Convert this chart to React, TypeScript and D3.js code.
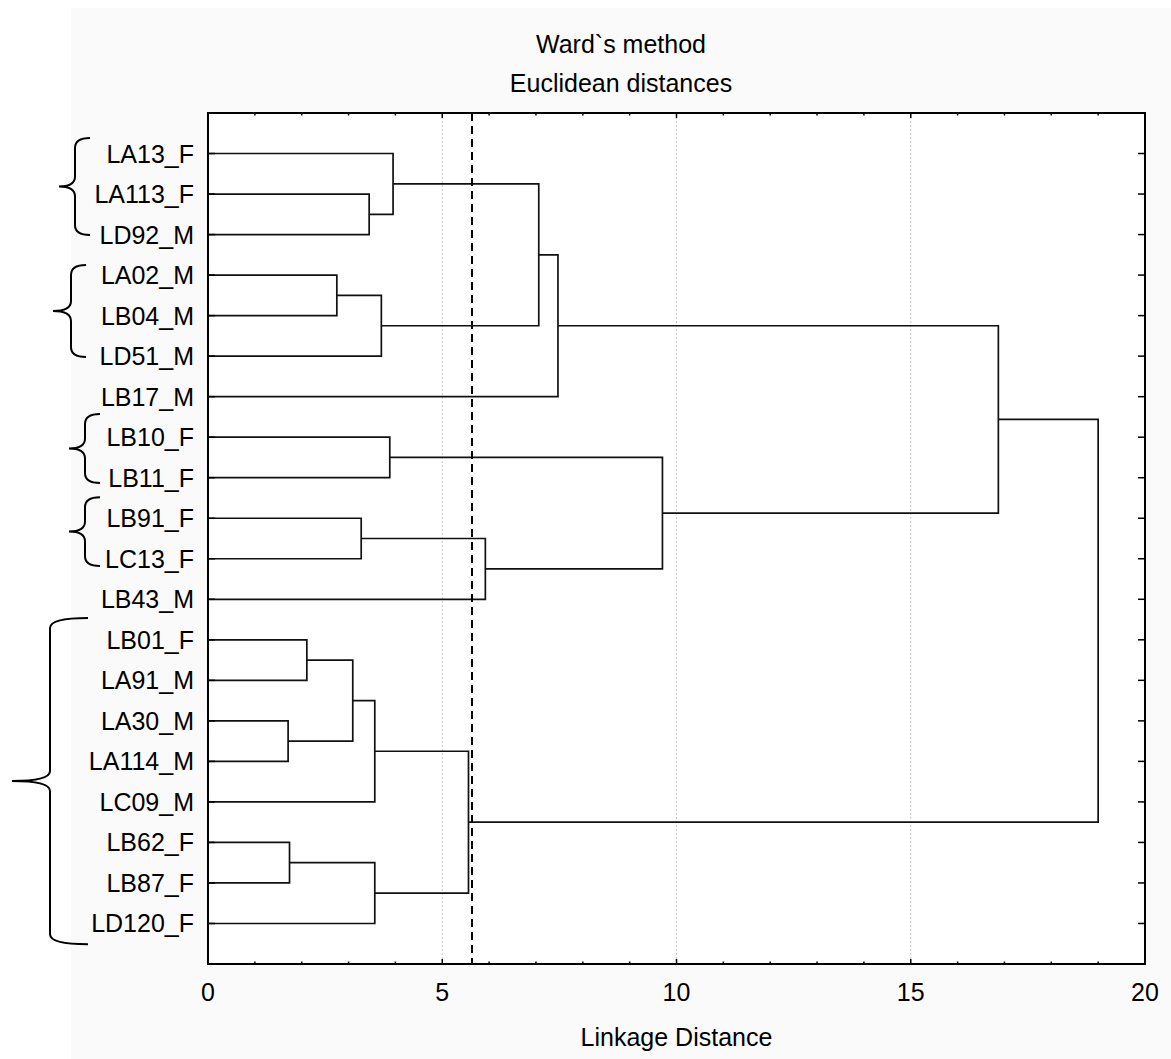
import React, { useRef, useEffect } from "react";
import * as d3 from "d3";

// leaf order, top to bottom
const leaves = [
  "LA13_F", "LA113_F", "LD92_M", "LA02_M", "LB04_M", "LD51_M", "LB17_M",
  "LB10_F", "LB11_F", "LB91_F", "LC13_F", "LB43_M",
  "LB01_F", "LA91_M", "LA30_M", "LA114_M", "LC09_M", "LB62_F", "LB87_F", "LD120_F",
];

// linkage: [childA, childB, distance]; ids 0..19 = leaves, 20+ = merges in this order
const merges: [number, number, number][] = [
  [1, 2, 3.44],
  [0, 20, 3.95],
  [3, 4, 2.75],
  [22, 5, 3.7],
  [21, 23, 7.06],
  [24, 6, 7.47],
  [7, 8, 3.88],
  [9, 10, 3.27],
  [27, 11, 5.92],
  [26, 28, 9.7],
  [25, 29, 16.87],
  [12, 13, 2.11],
  [14, 15, 1.71],
  [31, 32, 3.09],
  [33, 16, 3.56],
  [17, 18, 1.74],
  [35, 19, 3.56],
  [34, 36, 5.56],
  [30, 37, 19.0],
];

const cutDistance = 5.635;
const xTicks = [0, 5, 10, 15, 20];
const titleLines = ["Ward`s method", "Euclidean distances"];
const xLabel = "Linkage Distance";

// curly braces grouping leaves (row units, 1 = first leaf)
const braces = [
  { from: 0.62, to: 3.01, vx: 75, tip: 59 },
  { from: 3.75, to: 6.02, vx: 71, tip: 53 },
  { from: 7.43, to: 9.13, vx: 85, tip: 69 },
  { from: 9.48, to: 11.18, vx: 85, tip: 69 },
  { from: 12.46, to: 20.51, vx: 50, tip: 12 },
];

const W = 1171;
const H = 1059;
const FONT = "'Liberation Sans', Arial, sans-serif";

const Dendrogram = () => {
  const ref = useRef<SVGSVGElement>(null);

  useEffect(() => {
    const svg = d3.select(ref.current);
    svg.selectAll("*").remove();

    const left = 208, right = 1145, top = 113, bottom = 964;
    const x = d3.scaleLinear().domain([0, 20]).range([left, right]);
    const y = d3.scaleLinear().domain([0, leaves.length + 1]).range([top, bottom]);

    // backgrounds
    svg.append("rect").attr("x", 71).attr("y", 8).attr("width", W - 71).attr("height", H - 8).attr("fill", "#fafafa");
    svg.append("rect").attr("x", left).attr("y", top).attr("width", right - left).attr("height", bottom - top).attr("fill", "#fff");

    // grid
    svg.selectAll(".grid")
      .data(xTicks.slice(1, -1))
      .enter()
      .append("line")
      .attr("x1", (d) => x(d)).attr("x2", (d) => x(d))
      .attr("y1", top).attr("y2", bottom)
      .attr("stroke", "#c8c8c8")
      .attr("stroke-width", 1)
      .attr("stroke-dasharray", "2,2");

    // node positions
    const pos: { x: number; y: number }[] = leaves.map((_, i) => ({ x: x(0), y: y(i + 1) }));
    merges.forEach(([a, b, h]) => {
      pos.push({ x: x(h), y: (pos[a].y + pos[b].y) / 2 });
    });

    const g = svg.append("g");
    // leaf stubs are the horizontal lines from x=0; elbows for every merge
    merges.forEach(([a, b, h]) => {
      const pa = pos[a], pb = pos[b], mx = x(h);
      g.append("path")
        .attr("d", `M${pa.x},${pa.y}H${mx}V${pb.y}H${pb.x}`)
        .attr("fill", "none")
        .attr("stroke", "#111")
        .attr("stroke-width", 1.7);
    });

    // cut line
    svg.append("line")
      .attr("x1", x(cutDistance)).attr("x2", x(cutDistance))
      .attr("y1", top).attr("y2", bottom)
      .attr("stroke", "#000")
      .attr("stroke-width", 2)
      .attr("stroke-dasharray", "8,5");

    // ticks
    const ticksG = svg.append("g").attr("stroke", "#000").attr("stroke-width", 1.5);
    d3.range(0, 21).forEach((v) => {
      const len = v % 5 === 0 ? 5 : 2.5;
      ticksG.append("line").attr("x1", x(v)).attr("x2", x(v)).attr("y1", bottom).attr("y2", bottom - len);
      ticksG.append("line").attr("x1", x(v)).attr("x2", x(v)).attr("y1", top).attr("y2", top + len);
    });
    leaves.forEach((_, i) => {
      ticksG.append("line").attr("x1", right).attr("x2", right - 7).attr("y1", y(i + 1)).attr("y2", y(i + 1));
      ticksG.append("line").attr("x1", left).attr("x2", left + 7).attr("y1", y(i + 1)).attr("y2", y(i + 1));
    });

    // frame
    svg.append("rect")
      .attr("x", left).attr("y", top)
      .attr("width", right - left).attr("height", bottom - top)
      .attr("fill", "none").attr("stroke", "#000").attr("stroke-width", 2);

    // leaf labels
    svg.selectAll(".leaf")
      .data(leaves)
      .enter()
      .append("text")
      .attr("x", 194)
      .attr("y", (_, i) => y(i + 1) + 9)
      .attr("text-anchor", "end")
      .attr("font-family", FONT)
      .attr("font-size", 25)
      .attr("fill", "#000")
      .text((d) => d);

    // x tick labels
    svg.selectAll(".xt")
      .data(xTicks)
      .enter()
      .append("text")
      .attr("x", (d) => x(d))
      .attr("y", 1001)
      .attr("text-anchor", "middle")
      .attr("font-family", FONT)
      .attr("font-size", 25)
      .text((d) => d);

    svg.append("text")
      .attr("x", (left + right) / 2)
      .attr("y", 1046)
      .attr("text-anchor", "middle")
      .attr("font-family", FONT)
      .attr("font-size", 25)
      .text(xLabel);

    // title
    titleLines.forEach((t, i) => {
      svg.append("text")
        .attr("x", 621)
        .attr("y", 53 + i * 39)
        .attr("text-anchor", "middle")
        .attr("font-family", FONT)
        .attr("font-size", 25)
        .text(t);
    });

    // braces
    braces.forEach((b) => {
      const y0 = y(b.from), y1 = y(b.to), ym = (y0 + y1) / 2;
      const end = b.tip === 12 ? 88 : b.vx + 15;
      const r = Math.min(10, (y1 - y0) / 6);
      const d = `M${end},${y0}Q${b.vx},${y0} ${b.vx},${y0 + r}`
        + `V${ym - r}Q${b.vx},${ym} ${b.tip},${ym}`
        + `Q${b.vx},${ym} ${b.vx},${ym + r}`
        + `V${y1 - r}Q${b.vx},${y1} ${end},${y1}`;
      svg.append("path")
        .attr("d", d)
        .attr("fill", "none")
        .attr("stroke", "#000")
        .attr("stroke-width", 2);
    });
  }, []);

  return (
    <svg ref={ref} width={W} height={H} style={{ position: "absolute", left: 0, top: 0, display: "block", background: "#fff" }}></svg>
  );
};

export default function App() {
  return <Dendrogram />;
}
